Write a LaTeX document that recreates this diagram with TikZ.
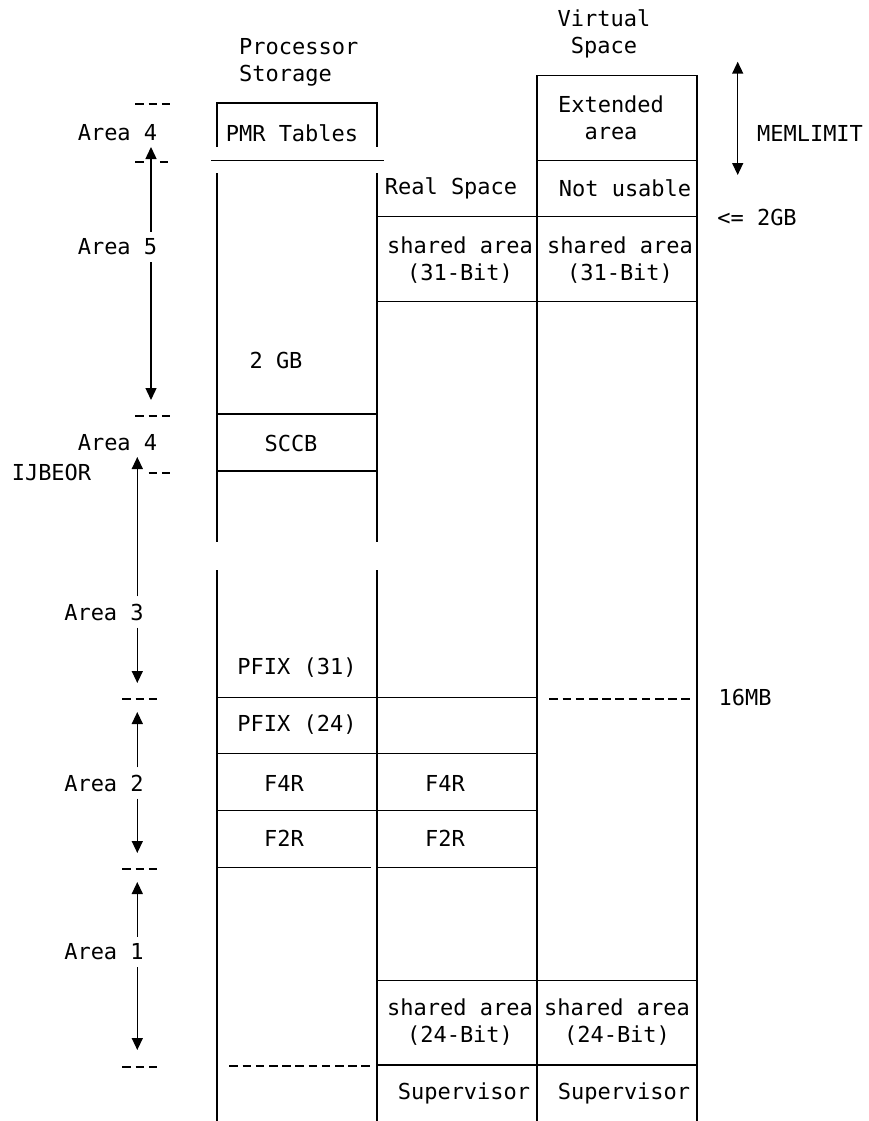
\documentclass[tikz,border=0pt]{standalone}
\usepackage{fontspec}
\setmonofont{DejaVu Sans Mono}
\usetikzlibrary{arrows.meta}
\begin{document}
\begin{tikzpicture}[
    x=1pt, y=-1pt,
    every node/.style={font=\ttfamily\fontsize{22}{27}\selectfont, inner sep=0pt, align=center},
    rule/.style={line width=1.5pt},
    dashrule/.style={line width=1.7pt, dash pattern=on 8.5pt off 4.7pt},
    arr/.style={-{Triangle[width=11pt,length=12pt]}, line width=1.4pt},
    dimarr/.style={{Triangle[width=11pt,length=12pt]}-{Triangle[width=11pt,length=12pt]}, line width=1.4pt},
    area/.style={inner ysep=7pt}
]
\useasboundingbox (0,0) rectangle (868,1121);

\node[anchor=west, align=left] (procstor) at (239,62) {Processor\\Storage};
\node (virtspace) at (604,34) {Virtual\\Space};

\draw[rule] (217,147) -- (217,103) -- (377,103) -- (377,147);
\draw[rule] (211,160.7) -- (384,160.7);
\draw[rule] (537,1121) -- (537,75.7) -- (697,75.7) -- (697,1121);
\draw[rule] (537,160.7) -- (697,160.7);
\draw[rule] (217,173) -- (217,542) (217,570) -- (217,1121);
\draw[rule] (377,173) -- (377,542) (377,570) -- (377,1121);
\foreach \y in {216.7,301.7,980.7,1065}
    \draw[rule] (377,\y) -- (697,\y);
\foreach \y in {414,471}
    \draw[rule] (217,\y) -- (377,\y);
\foreach \y in {697.7,753.7,810.7}
    \draw[rule] (217,\y) -- (537,\y);
\draw[rule] (217,867.7) -- (371,867.7) (377,867.7) -- (537,867.7);
\draw[dashrule] (229.4,1066) -- (370,1066);
\draw[dashrule] (549.4,699) -- (690,699);

\node (pmr)    at (292,133)  {PMR Tables};
\node (ext)    at (611,118)  {Extended\\area};
\node (real)   at (451,188)  {Real Space};
\node (notuse) at (625,188)  {Not usable};
\node (sh31r)  at (460,260)  {shared area\\(31-Bit)};
\node (sh31v)  at (620,260)  {shared area\\(31-Bit)};
\node (gb2)    at (276,360)  {2 GB};
\node (sccb)   at (291,443)  {SCCB};
\node (pfix31) at (297,668)  {PFIX (31)};
\node (pfix24) at (297,725)  {PFIX (24)};
\node (f4rp)   at (284,783)  {F4R};
\node (f4rr)   at (445,783)  {F4R};
\node (f2rp)   at (284,838)  {F2R};
\node (f2rr)   at (445,838)  {F2R};
\node (sh24r)  at (460,1022) {shared area\\(24-Bit)};
\node (sh24v)  at (617,1022) {shared area\\(24-Bit)};
\node (supr)   at (464,1093) {Supervisor};
\node (supv)   at (624,1093) {Supervisor};

\node (memlimit) at (810,133) {MEMLIMIT};
\node (le2gb)    at (757,217) {<= 2GB};
\node (mb16)     at (745,697) {16MB};
\coordinate (memtop) at (737.7,61.7);
\coordinate (membot) at (737.7,175);
\draw[dimarr] (memtop) -- (membot);

\node[area] (a4top) at (117.5,133) {Area 4};
\node[area] (a5)    at (117.5,247) {Area 5};
\node[area] (a4bot) at (117.5,443) {Area 4};
\node[area] (ijbeor) at (51.5,472) {IJBEOR};
\node[area] (a3)    at (104,612)   {Area 3};
\node[area] (a2)    at (104,783)   {Area 2};
\node[area] (a1)    at (104,952)   {Area 1};

\coordinate (a5t) at (151,147);
\coordinate (a5b) at (151,400);
\coordinate (a3t) at (137.3,457);
\coordinate (a3b) at (137.3,683);
\coordinate (a2t) at (137.3,712);
\coordinate (a2b) at (137.3,853);
\coordinate (a1t) at (137.3,882);
\coordinate (a1b) at (137.3,1050);
\draw[arr] (a5t |- a5.north) -- (a5t);
\draw[arr] (a5b |- a5.south) -- (a5b);
\draw[arr] (a3t |- a3.north) -- (a3t);
\draw[arr] (a3b |- a3.south) -- (a3b);
\draw[arr] (a2t |- a2.north) -- (a2t);
\draw[arr] (a2b |- a2.south) -- (a2b);
\draw[arr] (a1t |- a1.north) -- (a1t);
\draw[arr] (a1b |- a1.south) -- (a1b);

\draw[dashrule] (135.4,104) -- (170.3,104);
\draw[dashrule] (135.4,162) -- (143.9,162) (159.9,162) -- (168.4,162);
\draw[dashrule] (135.4,415.7) -- (170.3,415.7);
\draw[dashrule] (148.6,473) -- (170.3,473);
\foreach \y in {699,869,1067}
    \draw[dashrule] (122.4,\y) -- (157.3,\y);
\end{tikzpicture}
\end{document}
